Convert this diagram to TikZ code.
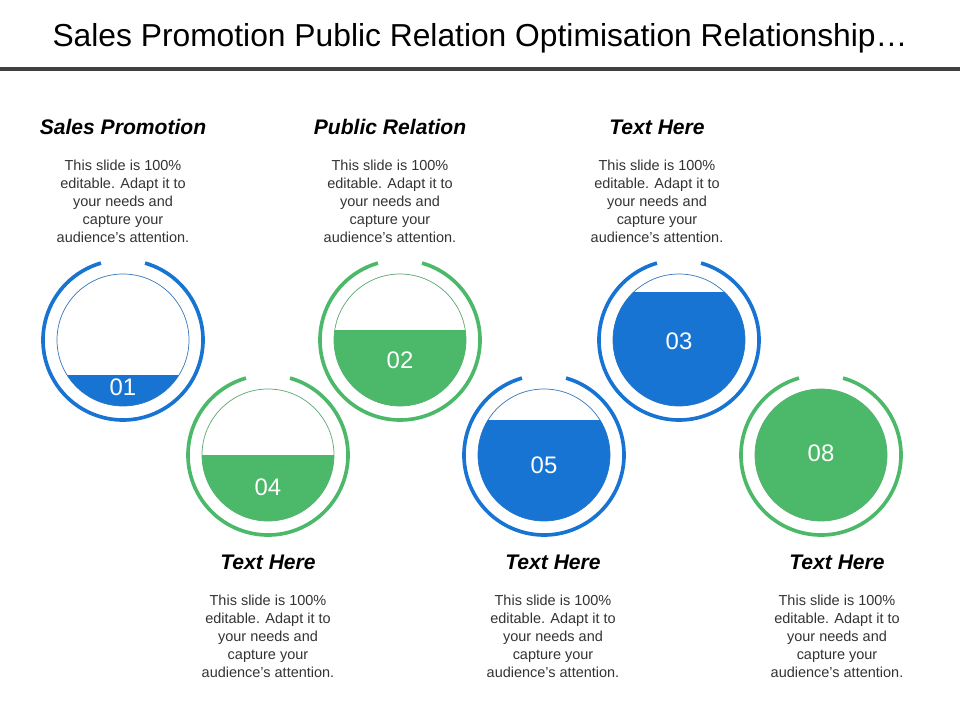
\documentclass[tikz,border=0pt]{standalone}
\usepackage{fontspec}
\setmainfont{Liberation Sans}
\definecolor{pblue}{HTML}{1874D2}
\definecolor{pgreen}{HTML}{4CB86A}
\begin{document}
\begin{tikzpicture}[x=0.025cm, y=-0.025cm,
        ring/.style={line width=2.6pt},
        inner/.style={draw=#1!70!gray, fill=white, line width=0.5pt},
        num/.style={text=white, font=\fontsize{17}{20}\selectfont},
        head/.style={font=\fontsize{15}{18}\selectfont\bfseries\itshape},
        body/.style={align=center, font=\fontsize{10.3}{12.8}\selectfont, text=black!80}
    ]
    \useasboundingbox (0,0) rectangle (960,720);
    
    \node (title) at (480,38) {\fontsize{22.6}{26}\selectfont Sales Promotion Public Relation Optimisation Relationship\dots};
    \draw[line width=3.5pt, black!75] (0,69) -- (960,69);
    
    % gauges: x, y, colour, fill top, label y, label
    \foreach \cx/\cy/\col/\top/\ly/\lab in {123/340/pblue/375/387/01, 400/340/pgreen/330/360/02, 679/340/pblue/292/341/03,
                                         268/455/pgreen/455/487/04, 544/455/pblue/420/465/05, 821/455/pgreen/380/453/08}{
        \draw[ring, \col] (\cx,\cy) ++(-74:80) arc (-74:254:80);
        \draw[inner=\col] (\cx,\cy) circle (66);
        \begin{scope}
            \clip (\cx,\cy) circle (66);
            \fill[\col] (\cx-70,\top) rectangle (\cx+70,\cy+70);
        \end{scope}
        \node[num] (n\lab) at (\cx,\ly) {\lab};
    }
    
    % texts
    \foreach \tx/\ty/\hd [count=\i] in {123/127/Sales Promotion, 390/127/Public Relation, 657/127/Text Here,
                                         268/562/Text Here, 553/562/Text Here, 837/562/Text Here}{
        \node[head] (h\i) at (\tx,\ty) {\hd};
        \node[body, anchor=north] (b\i) at (\tx,\ty+28) {This slide is 100\%\\editable. Adapt it to\\your needs and\\capture your\\audience\char39 s attention.};
    }
    
\end{tikzpicture}
\end{document}
